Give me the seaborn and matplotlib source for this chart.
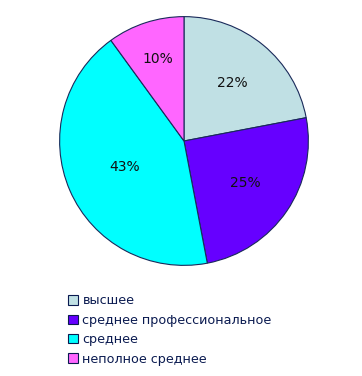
import matplotlib
matplotlib.use("Agg")
import matplotlib.pyplot as plt
import numpy as np
import seaborn as sns

categories = ["высшее", "среднее профессиональное", "среднее", "неполное среднее"]
values = [22, 25, 43, 10]
colors = ["#C0E0E4", "#6600FF", "#00FFFF", "#FF66FF"]
label_radius = [0.61, 0.6, 0.52, 0.69]  # style: radial placement of % labels

sns.set_theme(style="white")
plt.rcParams['font.family'] = ['DejaVu Sans']

fig = plt.figure(figsize=(3.62, 3.76), dpi=100)
fig.patch.set_facecolor("white")
r = 125
cx, cy = 184, 141
W, H = 362, 376
ax = fig.add_axes([(cx - r) / W, 1 - (cy + r) / H, 2 * r / W, 2 * r / H])
wedges, texts, autotexts = ax.pie(
    values, colors=colors, startangle=90, counterclock=False,
    autopct=lambda p: f"{p:.0f}%", pctdistance=0.6,
    wedgeprops=dict(edgecolor="#1a2a5a", linewidth=0.8),
    textprops=dict(fontsize=10, color="#111111"),
)
for w, t, rr in zip(wedges, autotexts, label_radius):
    ang = np.deg2rad((w.theta1 + w.theta2) / 2)
    t.set_position((rr * np.cos(ang), rr * np.sin(ang)))
ax.set_xlim(-1.005, 1.005)
ax.set_ylim(-1.005, 1.005)
ax.set_aspect("equal")
ax.axis("off")

handles = [plt.Rectangle((0, 0), 1, 1, facecolor=c, edgecolor="#0a1a50", linewidth=0.8) for c in colors]
leg = fig.legend(handles, categories, loc="upper left",
                 bbox_to_anchor=(62 / W, 1 - 288 / H), frameon=False,
                 fontsize=9.2, handlelength=0.75, handleheight=0.75,
                 handletextpad=0.35, labelspacing=0.5, borderpad=0)
for t in leg.get_texts():
    t.set_color("#0a1a50")

fig.savefig("out.png", dpi=100, facecolor="white")
